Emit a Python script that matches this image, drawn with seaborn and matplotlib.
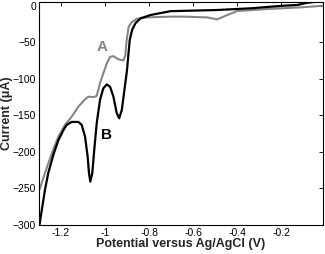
import pandas as pd
import matplotlib
matplotlib.use("Agg")
import matplotlib.pyplot as plt
import seaborn as sns

# curve A (grey)
potential_a = [-1.298, -1.273, -1.242, -1.212, -1.182, -1.152, -1.121, -1.091, -1.076, -1.053,
               -1.038, -1.023, -1.008, -0.992, -0.977, -0.962, -0.939, -0.917, -0.908, -0.903,
               -0.893, -0.877, -0.855, -0.809, -0.703, -0.642, -0.536, -0.491, -0.445, -0.400,
               -0.264, -0.112, -0.006]
current_a = [-252, -229, -202, -179, -163, -152, -138, -128, -124.5, -125,
             -123.5, -106, -92.5, -79, -70, -69, -73.4, -75, -68, -50,
             -28.7, -22, -18, -16, -15, -15, -16, -18.7, -12.8, -7.3,
             -4.6, -2.3, 0]

# curve B (black)
potential_b = [-1.298, -1.273, -1.258, -1.235, -1.212, -1.197, -1.189, -1.174, -1.152, -1.121,
               -1.106, -1.091, -1.079, -1.073, -1.067, -1.058, -1.049, -1.038, -1.023, -1.008,
               -0.992, -0.977, -0.962, -0.947, -0.936, -0.924, -0.912, -0.901, -0.888, -0.877,
               -0.862, -0.839, -0.794, -0.703, -0.491, -0.339, -0.188, -0.127, -0.082, -0.036,
               -0.006]
current_b = [-300, -252, -229, -204, -184, -175, -170, -163, -159, -159,
             -163, -179, -206.5, -229, -240.7, -229, -197, -161, -129, -113,
             -107.6, -111, -124.5, -147, -154, -142.7, -115, -90, -47, -33,
             -24, -17.3, -12.8, -7.5, -5.9, -3.6, 0, 0.9, 4, 5.5,
             5.5]

sns.set_style("white")
plt.rcParams["font.family"] = ["Liberation Sans", "DejaVu Sans"]

df_a = pd.DataFrame({"potential": potential_a, "current": current_a})
df_b = pd.DataFrame({"potential": potential_b, "current": current_b})

fig = plt.figure(figsize=(3.25, 2.54), dpi=100)
ax = fig.add_axes([0.12, 0.114, 0.874, 0.878])

sns.lineplot(data=df_a, x="potential", y="current", color="#858585", linewidth=1.5,
             sort=False, estimator=None, ax=ax)
sns.lineplot(data=df_b, x="potential", y="current", color="black", linewidth=1.6,
             sort=False, estimator=None, ax=ax)

ax.text(-1.014, -56, "A", color="#858585", fontsize=11, weight="bold", ha="center", va="center")
ax.text(-0.994, -177, "B", color="black", fontsize=11, weight="bold", ha="center", va="center")

ax.set_xlim(-1.3, -0.01)
ax.set_ylim(-300, 5)
ax.set_xticks([-1.2, -1.0, -0.8, -0.6, -0.4, -0.2])
ax.set_xticklabels(["-1.2", "-1", "-0.8", "-0.6", "-0.4", "-0.2"])
ax.set_yticks([0, -50, -100, -150, -200, -250, -300])
ax.tick_params(direction="in", length=3, width=0.6, labelsize=7.5, pad=2,
               top=True, right=True, colors="black")
for s in ax.spines.values():
    s.set_linewidth(0.8)
    s.set_color("black")

ax.set_xlabel("Potential versus Ag/AgCl (V)", fontsize=9, weight="bold", labelpad=0)
ax.set_ylabel("Current (\u03bcA)", fontsize=9, weight="bold", labelpad=0)

fig.savefig("out.png", dpi=100)
